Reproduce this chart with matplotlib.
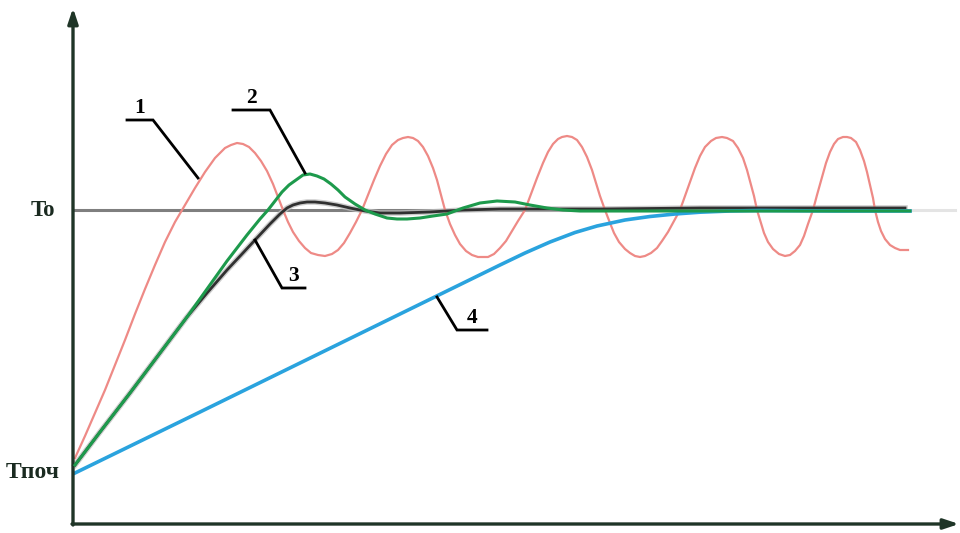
import numpy as np
import matplotlib
matplotlib.use("Agg")
import matplotlib.pyplot as plt

# time (arbitrary units) and temperature (Tпоч = 0, To = 262)
t_set = 262
curve_labels = ["1", "2", "3", "4"]
y_labels = ["To", "Tпоч"]

# curve 1 - undamped oscillation
t1 = [0, 10, 20, 30, 40, 50, 60, 70, 80, 90,
      100, 110, 120, 130, 140, 150, 156, 162, 168, 174,
      180, 186, 192, 198, 203, 208, 213, 218, 224, 230,
      236, 243, 250, 257, 263, 269, 275, 281, 287, 293,
      299, 305, 311, 317, 323, 328, 333, 338, 343, 348,
      353, 358, 362, 366, 370, 375, 380, 385, 391, 397,
      403, 408, 413, 419, 425, 431, 437, 443, 450, 456,
      462, 468, 473, 478, 483, 487, 492, 497, 502, 507,
      512, 517, 521, 525, 530, 535, 539, 544, 550, 555,
      560, 565, 570, 576, 582, 587, 593, 599, 605, 610,
      615, 620, 625, 630, 636, 641, 647, 652, 658, 663,
      668, 672, 675, 679, 682, 686, 689, 693, 698, 704,
      710, 715, 720, 725, 729, 733, 738, 742, 747, 751,
      755, 759, 763, 768, 772, 776, 781, 785, 789, 792,
      795, 798, 800, 803, 806, 810, 815, 820, 825, 830, 833]
T1 = [14, 36, 59, 82, 107, 132, 158, 183, 207, 230,
      250, 267, 284, 300, 314, 324, 327, 329, 328, 325,
      319, 311, 301, 288, 275, 262, 250, 240, 231, 224,
      219, 217, 216, 218, 222, 229, 239, 250, 262, 277,
      292, 306, 318, 327, 332, 334, 335, 334, 331, 325,
      316, 304, 292, 277, 262, 248, 237, 228, 221, 217,
      215, 215, 215, 218, 224, 231, 241, 251, 262, 278,
      294, 309, 320, 328, 333, 335, 336, 335, 332, 325,
      315, 302, 289, 276, 262, 249, 239, 230, 223, 219,
      216, 215, 216, 219, 224, 231, 240, 251, 262, 276,
      290, 304, 316, 325, 331, 334, 335, 334, 331, 324,
      314, 302, 291, 276, 262, 249, 239, 230, 223, 218,
      216, 217, 221, 227, 236, 248, 262, 277, 295, 309,
      320, 328, 333, 335, 335, 334, 330, 322, 311, 300,
      287, 274, 262, 250, 241, 233, 227, 224, 222, 222, 222]

# curve 2 - damped oscillation
t2 = [0, 25, 55, 85, 112, 132, 152, 172, 185, 193, 200, 207, 214, 221, 228, 235, 242, 249,
      256, 263, 270, 280, 290, 300, 312, 322, 332, 345, 358, 372, 388, 405, 422, 440, 455,
      472, 488, 505, 525, 560, 625, 725, 835]
T2 = [7, 40, 79, 119, 155, 183, 211, 237, 253, 262, 271, 280, 287, 292, 297, 298, 296, 293,
      288, 282, 275, 268, 262, 258, 254, 253, 253, 254, 256, 258, 264, 269, 271, 270, 267,
      264, 262, 261, 261, 261, 261, 261, 261]

# curve 3 - small overshoot
t3 = [0, 25, 55, 85, 112, 132, 152, 167, 180, 195, 205, 212, 218, 225, 232, 240, 250, 262,
      275, 290, 305, 325, 355, 388, 425, 525, 625, 725, 830]
T3 = [7, 40, 79, 119, 155, 179, 202, 218, 232, 248, 258, 264, 267, 269, 270, 270, 269, 267,
      264, 261, 259, 259, 260, 262, 263, 263, 264, 264, 264]

# curve 4 - aperiodic
t4 = [0, 125, 225, 325, 425, 450, 475, 500, 522, 550, 575, 600, 625, 655, 685, 760, 835]
T4 = [-1, 60, 109, 158, 207, 219, 230, 239.5, 246, 252, 255.5, 258, 259.8, 261, 261.5, 261, 261]

fig = plt.figure(figsize=(9.6, 5.33), dpi=100)
ax = fig.add_axes([0, 0, 1, 1])
ax.set_xlim(-75, 885)
ax.set_ylim(-61, 472)
ax.axis("off")

axis_col = "#1f3527"

# set-point line
ax.plot([0, 830], [t_set, t_set], color="#7f7f7f", lw=2.2, zorder=1)
ax.plot([830, 880], [t_set, t_set], color="#e4e4e4", lw=2.2, zorder=1)

ax.plot(t1, T1, color="#ee8a86", lw=1.6, zorder=3)
ax.plot(t3, T3, color="#c0c0c0", lw=4.0, zorder=2, alpha=0.8)
ax.plot(t3, T3, color="#303030", lw=2.0, zorder=3)
ax.plot(t2, T2, color="#1d9a4c", lw=2.2, zorder=4)
ax.plot(t4, T4, color="#2aa3de", lw=2.6, zorder=3)

# axes with arrows
ax.annotate("", xy=(-2, 464), xytext=(-2, -53),
            arrowprops=dict(arrowstyle="-|>,head_length=0.9,head_width=0.3", lw=2.4, color=axis_col,
                            shrinkA=0, shrinkB=0))
ax.annotate("", xy=(884, -52), xytext=(-3, -52),
            arrowprops=dict(arrowstyle="-|>,head_length=0.9,head_width=0.3", lw=2.4, color=axis_col,
                            shrinkA=0, shrinkB=0))

serif = ["Liberation Serif", "DejaVu Serif"]
ax.text(-32, t_set, y_labels[0], fontsize=16.5, fontweight="bold", family=serif,
        color="#1a2a20", ha="center", va="center")
ax.text(-42, 0, y_labels[1], fontsize=17, fontweight="bold", family=serif,
        color="#1a2a20", ha="center", va="center")

# leader lines with numbers
leaders = [
    ((123, 294), (78, 352), (52, 352)),
    ((230, 299), (195, 362), (158, 362)),
    ((180, 232), (207, 184), (230, 184)),
    ((362, 175), (382, 142), (412, 142)),
]
for (p0, p1, p2), lab in zip(leaders, curve_labels):
    ax.plot([p0[0], p1[0], p2[0]], [p0[1], p1[1], p2[1]], color="black", lw=2.0, zorder=5,
            solid_joinstyle="miter")
    ax.text((p1[0] + p2[0]) / 2, p1[1] + 2, lab, fontsize=15.5, fontweight="bold", family=serif,
            ha="center", va="bottom", color="black")

fig.savefig("out.png", dpi=100)
